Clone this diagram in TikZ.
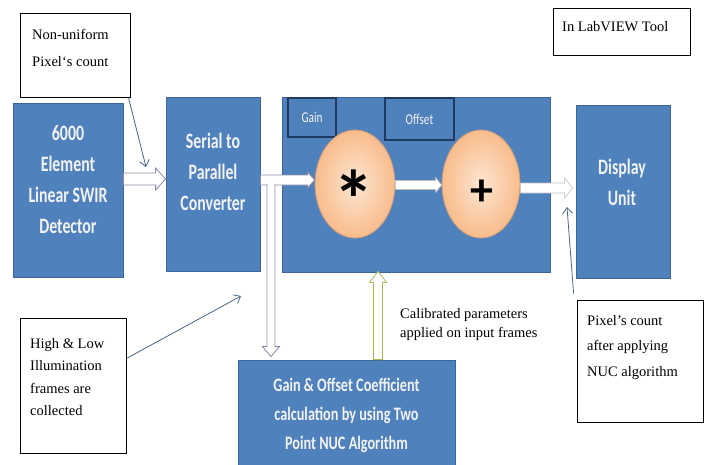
\documentclass[tikz,border=0pt]{standalone}
\usepackage{fontspec}
\usepackage{graphicx}
\setmainfont{Liberation Serif}
\newfontfamily\carl{Carlito}
\usetikzlibrary{arrows.meta,calc,shapes.geometric}
\definecolor{bfill}{HTML}{4F81BD}
\definecolor{bborder}{HTML}{3C6699}
\definecolor{navy}{HTML}{1F3A60}
\definecolor{agrey}{HTML}{8F88A8}
\definecolor{agreen}{HTML}{A4BB5C}
\definecolor{thinc}{HTML}{4A6584}
\definecolor{peachin}{HTML}{FDE6D2}
\definecolor{peachout}{HTML}{F8BC8C}
\definecolor{ellb}{HTML}{D29C78}
\definecolor{btxt}{HTML}{F2F2F2}
\newcommand\bl[1]{\scalebox{0.72}[1]{#1}}
\newcommand\harr[6]{\path[#1] let \p1=#2, \p2=#3 in (\x1,\y1+#4) -- (\x2-#6,\y1+#4) -- (\x2-#6,\y1+#5) -- (\x2,\y1) -- (\x2-#6,\y1-#5) -- (\x2-#6,\y1-#4) -- (\x1,\y1-#4) -- cycle;}
\newcommand\darr[6]{\path[#1] let \p1=#2, \p2=#3 in (\x1-#4,\y1) -- (\x1-#4,\y2+#6) -- (\x1-#5,\y2+#6) -- (\x1,\y2) -- (\x1+#5,\y2+#6) -- (\x1+#4,\y2+#6) -- (\x1+#4,\y1);}
\newcommand\uarr[6]{\path[#1] let \p1=#2, \p2=#3 in (\x1-#4,\y1) -- (\x1-#4,\y2-#6) -- (\x1-#5,\y2-#6) -- (\x1,\y2) -- (\x1+#5,\y2-#6) -- (\x1+#4,\y2-#6) -- (\x1+#4,\y1) -- cycle;}
\begin{document}
\begin{tikzpicture}[x=1pt,y=-1pt,
  blk/.style={draw=bborder, fill=bfill, line width=0.8pt, inner sep=0pt},
  callout/.style={draw=black, fill=white, line width=0.8pt, inner sep=0pt},
  ctext/.style={inner sep=0pt, anchor=north west, align=left, font=\fontsize{14.5}{23}\selectfont},
  btext/.style={inner sep=0pt, text=btxt, align=center, font=\carl\bfseries\fontsize{22}{31}\selectfont},
  small/.style={draw=navy, fill=bfill, line width=1.2pt, inner sep=0pt, text=btxt, font=\carl\fontsize{15}{15}\selectfont},
  oper/.style={ellipse, draw=ellb, line width=0.8pt, inner color=peachin, outer color=peachout},
  hollow/.style={draw=agrey, fill=white, line width=0.8pt},
  inner/.style={draw=black!25, fill=white, line width=0.6pt},
  thin/.style={draw=thinc, line width=0.8pt, -{Straight Barb[length=6pt,width=10pt]}}]
\useasboundingbox (0,0) rectangle (707,464);
\fill[white] (0,0) rectangle (707,464);

% blue blocks
\node[blk, minimum width=110pt, minimum height=174pt] (det) at (68,190) {};
\node[btext] (dett) at (68,179.5) {\bl{6000}\\\bl{Element}\\\bl{Linear SWIR}\\\bl{Detector}};
\node[blk, minimum width=94pt, minimum height=174pt] (ser) at (213,184) {};
\node[btext] (sert) at (213,172) {\bl{Serial to}\\\bl{Parallel}\\\bl{Converter}};
\node[blk, minimum width=268pt, minimum height=175pt] (main) at (416,184.5) {};
\node[small, minimum width=48pt, minimum height=39pt] (gain) at (312,117.5) {\scalebox{0.75}[1]{Gain}};
\node[small, minimum width=69pt, minimum height=42pt] (offs) at (419.5,119) {\scalebox{0.75}[1]{Offset}};
\node[oper, minimum width=80pt, minimum height=108pt] (mul) at (355,184) {};
\node[oper, minimum width=78pt, minimum height=108pt] (add) at (481,184) {};
\node[inner sep=0pt, font=\carl\bfseries\fontsize{82}{82}\selectfont] (mult) at (354,199) {*};
\node[inner sep=0pt, font=\carl\bfseries\fontsize{46}{46}\selectfont] (addt) at (482,193) {+};
\node[blk, minimum width=94pt, minimum height=173pt] (disp) at (623,191.5) {};
\node[btext] (dispt) at (622,182) {\bl{Display}\\\bl{Unit}};
\node[blk, minimum width=217pt, minimum height=108pt] (nuc) at (346.5,414) {};
\node[btext, font=\carl\bfseries\fontsize{19}{29}\selectfont] (nuct) at (346.5,415) {\scalebox{0.75}[1]{Gain \& Offset Coefficient}\\\scalebox{0.75}[1]{calculation by using Two}\\\scalebox{0.75}[1]{Point NUC Algorithm}};

% callouts
\node[callout, minimum width=110pt, minimum height=84pt] (nu) at (75,55) {};
\node[ctext, font=\fontsize{14.5}{27}\selectfont] (nut) at (32,29) {Non-uniform\\Pixel‘s count};
\node[callout, minimum width=106pt, minimum height=135pt] (hl) at (73,385.5) {};
\node[ctext, font=\fontsize{14.5}{22.5}\selectfont] (hlt) at (30,338) {High \& Low\\Illumination\\frames are\\collected};
\node[callout, minimum width=126pt, minimum height=122pt] (pc) at (640,361) {};
\node[ctext, font=\fontsize{14.5}{25.5}\selectfont] (pct) at (587,315) {Pixel’s count\\after applying\\NUC algorithm};
\node[callout, minimum width=137pt, minimum height=47pt] (lab) at (621.5,31.5) {};
\node[inner sep=0pt, anchor=west, font=\fontsize{14.5}{17}\selectfont] (labt) at (562,27) {In LabVIEW Tool};
\node[ctext, font=\fontsize{14.5}{19}\selectfont] (calt) at (400,308) {Calibrated parameters\\applied on input frames};

% block arrows
\harr{hollow}{(det.east |- 0,179)}{(ser.west |- 0,179)}{6pt}{11pt}{10pt}
\harr{hollow}{(ser.east |- 0,180)}{(mul.west |- 0,180)}{5pt}{8pt}{7pt}
\coordinate (branch) at (271,183.5);
\coordinate (dtip) at (branch |- nuc.north);
\darr{hollow}{(branch)}{([yshift=3pt]dtip)}{4pt}{8.5pt}{10pt}
\harr{inner}{(mul.east |- 0,185)}{(add.west |- 0,185)}{4.5pt}{7.5pt}{6pt}
\harr{inner}{(add.east |- 0,188)}{([xshift=-3pt]disp.west |- 0,188)}{5pt}{10pt}{8pt}
\coordinate (ubase) at (nuc.north -| 378,0);
\coordinate (utip) at (ubase |- main.south);
\uarr{draw=agreen, fill=white, line width=0.8pt}{(ubase)}{([yshift=1pt]utip)}{4.5pt}{8.5pt}{11pt}

% thin callout arrows
\coordinate (nuend) at (146,167);
\draw[thin] ([xshift=-2pt]nu.south east) -- (nuend);
\coordinate (hlend) at (241,296);
\draw[thin] ([yshift=27pt]hl.east) -- (hlend);
\coordinate (pcend) at (567,207);
\draw[thin] ([shift={(-3pt,6pt)}]pc.north west) -- (pcend);
\end{tikzpicture}
\end{document}
